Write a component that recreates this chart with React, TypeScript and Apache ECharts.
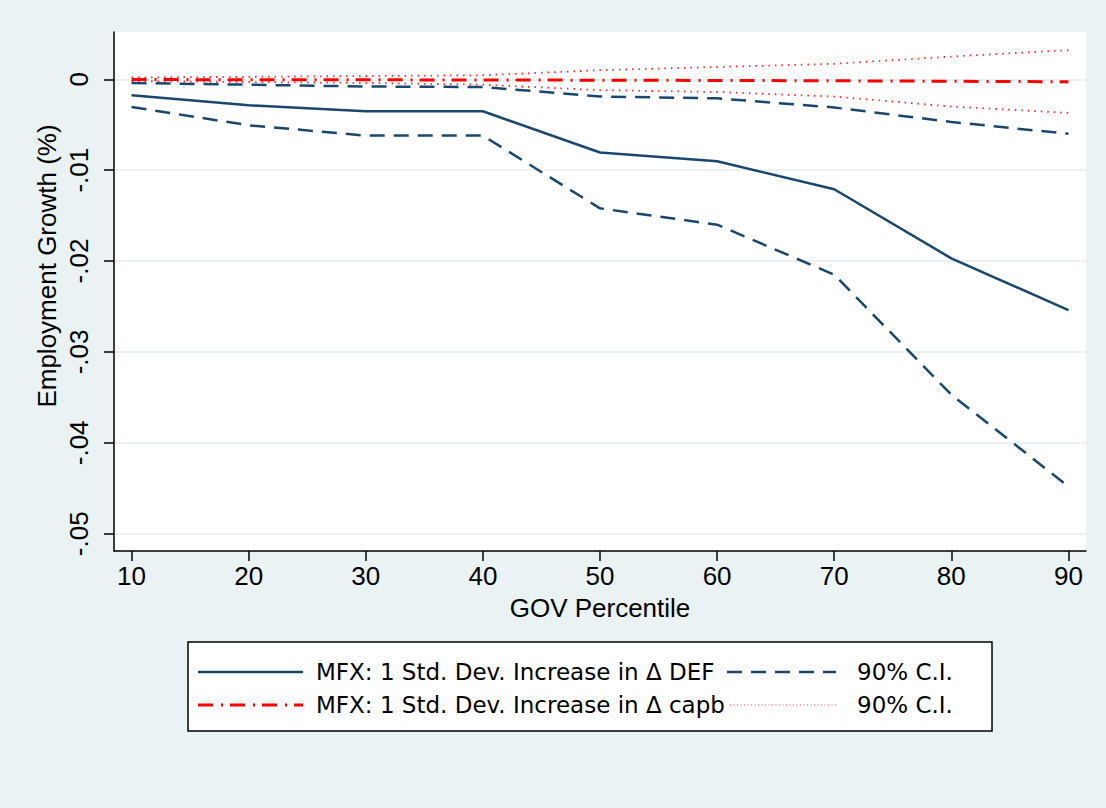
import { useEffect, useRef } from 'react';
import * as echarts from 'echarts';

// GOV percentiles (x)
const percentiles = [10, 20, 30, 40, 50, 60, 70, 80, 90];

// MFX of 1 s.d. increase in ΔDEF and its 90% CI
const defMfx = [-0.00176, -0.00286, -0.00352, -0.00352, -0.00806, -0.00902, -0.0121, -0.0197, -0.0254];
const defLower = [-0.00305, -0.00506, -0.0062, -0.0062, -0.0142, -0.016, -0.0215, -0.0347, -0.0448];
const defUpper = [-0.0004, -0.0006, -0.0008, -0.00085, -0.0019, -0.0021, -0.0031, -0.0047, -0.006];

// MFX of 1 s.d. increase in Δcapb and its 90% CI
const capbMfx = [-0.00003, -0.00005, -0.00006, -0.00008, -0.0001, -0.00013, -0.00017, -0.00022, -0.00028];
const capbLower = [-0.0002, -0.0003, -0.0004, -0.0006, -0.0012, -0.0014, -0.0019, -0.003, -0.0037];
const capbUpper = [0.0002, 0.00027, 0.00036, 0.00044, 0.001, 0.00135, 0.0017, 0.0025, 0.0032];

// Axis ticks
const xTicks = [10, 20, 30, 40, 50, 60, 70, 80, 90];
const xTickLabels = ['10', '20', '30', '40', '50', '60', '70', '80', '90'];
const yTicks = [0, -0.01, -0.02, -0.03, -0.04, -0.05];
const yTickLabels = ['0', '-.01', '-.02', '-.03', '-.04', '-.05'];

const xTitle = 'GOV Percentile';
const yTitle = 'Employment Growth (%)';
const legendDefMfx = 'MFX: 1 Std. Dev. Increase in Δ DEF';
const legendDefCi = '90% C.I.';
const legendCapbMfx = 'MFX: 1 Std. Dev. Increase in Δ capb';
const legendCapbCi = '90% C.I.';

const NAVY = '#1a476f';
const RED = '#ff0000';
const BG = '#eaf2f3';
const AXIS_FONT = '"Liberation Sans", Arial, sans-serif';
const LEGEND_FONT = '"DejaVu Sans", Verdana, sans-serif';

const DEF_DASH = [15, 9];
const CAPB_DASHDOT = [15, 8, 2, 7];
const CAPB_DOT = [1.5, 5];

function lookupLabel(ticks: number[], labels: string[], v: number) {
  for (let i = 0; i < ticks.length; i++) {
    if (Math.abs(ticks[i] - v) < 1e-9) return labels[i];
  }
  return '';
}

function toPairs(vals: number[]) {
  return percentiles.map((x, i) => [x, vals[i]]);
}

export default function App() {
  const ref = useRef<HTMLDivElement>(null);

  useEffect(() => {
    document.body.style.margin = '0';
    document.body.style.background = BG;
    if (!ref.current) return;
    const chart = echarts.init(ref.current, undefined, { renderer: 'svg' });

    const lineSeries = (name: string, vals: number[], color: string, width: number, type: any, opacity = 1, z = 2) => ({
      type: 'line',
      name,
      data: toPairs(vals),
      showSymbol: false,
      symbol: 'none',
      silent: true,
      z,
      lineStyle: { color, width, type, opacity, cap: 'butt' },
    });

    const legendText = (text: string, x: number, y: number) => ({
      type: 'text',
      x,
      y,
      z: 101,
      style: {
        text,
        fontSize: 23,
        fontFamily: LEGEND_FONT,
        fill: '#000',
        align: 'left',
        verticalAlign: 'middle',
        textAlign: 'left',
        textVerticalAlign: 'middle',
      },
    });

    const legendLine = (x1: number, x2: number, y: number, stroke: string, lineWidth: number, lineDash: any, opacity = 1) => ({
      type: 'line',
      z: 101,
      shape: { x1, y1: y, x2, y2: y },
      style: { stroke, lineWidth, lineDash, opacity },
    });

    const row1 = 672;
    const row2 = 705;

    chart.setOption({
      animation: false,
      backgroundColor: BG,
      grid: {
        left: 114,
        top: 32,
        width: 972,
        height: 519,
        show: true,
        backgroundColor: '#ffffff',
        borderWidth: 0,
      },
      xAxis: {
        type: 'value',
        min: 8.5,
        max: 91.5,
        name: xTitle,
        nameLocation: 'middle',
        nameGap: 44,
        nameTextStyle: { fontSize: 26, fontFamily: AXIS_FONT, color: '#000' },
        axisLine: { show: true, onZero: false, lineStyle: { color: '#000', width: 1.5 } },
        axisTick: { show: true, length: 10, customValues: xTicks, lineStyle: { color: '#000', width: 1.5 } },
        axisLabel: {
          customValues: xTicks,
          margin: 12,
          fontSize: 26,
          fontFamily: AXIS_FONT,
          color: '#000',
          formatter: (v: number) => lookupLabel(xTicks, xTickLabels, v),
        },
        splitLine: { show: false },
      },
      yAxis: {
        type: 'value',
        min: -0.0519,
        max: 0.0052,
        axisLine: { show: true, onZero: false, lineStyle: { color: '#000', width: 1.5 } },
        axisTick: { show: true, length: 10, customValues: yTicks, lineStyle: { color: '#000', width: 1.5 } },
        axisLabel: {
          customValues: yTicks,
          rotate: 90,
          margin: 22,
          fontSize: 26,
          fontFamily: AXIS_FONT,
          color: '#000',
          formatter: (v: number) => lookupLabel(yTicks, yTickLabels, v),
        },
        splitLine: { show: true, lineStyle: { color: BG, width: 2 } },
      },
      series: [
        lineSeries(legendDefMfx, defMfx, NAVY, 2.5, 'solid'),
        lineSeries('DEF lower 90% C.I.', defLower, NAVY, 2.5, DEF_DASH),
        lineSeries('DEF upper 90% C.I.', defUpper, NAVY, 2.5, DEF_DASH),
        lineSeries(legendCapbMfx, capbMfx, RED, 3, CAPB_DASHDOT, 1, 4),
        lineSeries('capb lower 90% C.I.', capbLower, RED, 1.8, CAPB_DOT, 0.85, 3),
        lineSeries('capb upper 90% C.I.', capbUpper, RED, 1.8, CAPB_DOT, 0.85, 3),
      ],
      graphic: [
        {
          type: 'text',
          x: 47,
          y: 266,
          rotation: Math.PI / 2,
          style: {
            text: yTitle,
            fontSize: 26,
            fontFamily: AXIS_FONT,
            fill: '#000',
            align: 'center',
            verticalAlign: 'middle',
            textAlign: 'center',
            textVerticalAlign: 'middle',
          },
        },
        {
          type: 'rect',
          z: 100,
          shape: { x: 188, y: 642, width: 804, height: 89 },
          style: { fill: '#ffffff', stroke: '#000', lineWidth: 1.5 },
        },
        legendLine(198, 303, row1, NAVY, 2.5, null),
        legendText(legendDefMfx, 316, row1),
        legendLine(727, 836, row1, NAVY, 2.5, DEF_DASH),
        legendText(legendDefCi, 857, row1),
        legendLine(198, 303, row2, RED, 3, CAPB_DASHDOT),
        legendText(legendCapbMfx, 316, row2),
        legendLine(730, 836, row2, RED, 1.2, [1, 2.5], 0.7),
        legendText(legendCapbCi, 857, row2),
      ],
    });

    return () => chart.dispose();
  }, []);

  return <div ref={ref} style={{ width: 1106, height: 808 }} />;
}
